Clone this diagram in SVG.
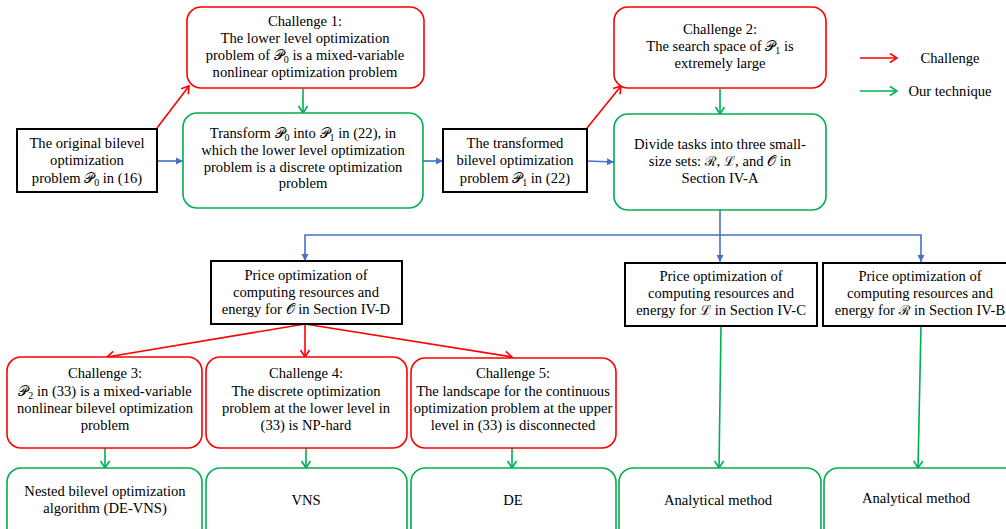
<svg xmlns="http://www.w3.org/2000/svg" width="1006" height="529" viewBox="0 0 1006 529">
<defs>
<style>
text{font-family:"Liberation Serif","DejaVu Serif",serif;font-size:14.6px;fill:#000;text-anchor:middle}
.blk{fill:#fff;stroke:#000;stroke-width:2}
.red{fill:#fff;stroke:#FF0000;stroke-width:1.6}
.grn{fill:#fff;stroke:#00B050;stroke-width:1.6}
.lr{stroke:#FF0000;stroke-width:1.6;fill:none;marker-end:url(#mr)}
.lg{stroke:#00B050;stroke-width:1.6;fill:none;marker-end:url(#mg)}
.lb{stroke:#4472C4;stroke-width:1.6;fill:none}
.lba{stroke:#4472C4;stroke-width:1.6;fill:none;marker-end:url(#mb)}
.sub{font-size:10px}
.m{font-family:"DejaVu Serif","Noto Sans",serif;font-size:13.5px}
</style>
<marker id="mr" markerUnits="userSpaceOnUse" markerWidth="10" markerHeight="10" refX="7" refY="4.5" orient="auto" overflow="visible"><path d="M0,0 L7,4.5 L0,9" fill="none" stroke="#FF0000" stroke-width="1.6"/></marker>
<marker id="mg" markerUnits="userSpaceOnUse" markerWidth="10" markerHeight="10" refX="7" refY="4.5" orient="auto" overflow="visible"><path d="M0,0 L7,4.5 L0,9" fill="none" stroke="#00B050" stroke-width="1.6"/></marker>
<marker id="mb" markerUnits="userSpaceOnUse" markerWidth="8" markerHeight="8" refX="7" refY="3.5" orient="auto" overflow="visible"><path d="M0,0 L7,3.5 L0,7 z" fill="#4472C4"/></marker>
</defs>
<rect width="1006" height="529" fill="#fff"/>

<g id="connectors">
<line class="lr" x1="157" y1="128" x2="189" y2="86"/>
<line class="lba" x1="157" y1="161" x2="183" y2="161"/>
<line class="lg" x1="303" y1="89" x2="303" y2="113"/>
<line class="lba" x1="423" y1="161" x2="443" y2="161"/>
<line class="lba" x1="587" y1="161" x2="614" y2="162"/>
<line class="lr" x1="587" y1="128" x2="621" y2="86"/>
<line class="lg" x1="720" y1="89" x2="720" y2="114"/>
<polyline class="lb" points="720,210 720,235"/>
<polyline class="lba" points="720,235 305,235 305,261"/>
<polyline class="lba" points="720,235 921,235 921,262"/>
<line class="lba" x1="720" y1="235" x2="720" y2="262"/>
<line class="lr" x1="305" y1="324" x2="107" y2="357"/>
<line class="lr" x1="305" y1="324" x2="305" y2="357"/>
<line class="lr" x1="305" y1="324" x2="512" y2="357"/>
<line class="lg" x1="105" y1="448" x2="105" y2="468"/>
<line class="lg" x1="306" y1="448" x2="306" y2="468"/>
<line class="lg" x1="512" y1="448" x2="512" y2="468"/>
<line class="lg" x1="721" y1="326" x2="719" y2="468"/>
<line class="lg" x1="921" y1="326" x2="918" y2="468"/>
</g>

<g id="legend">
<line class="lr" x1="860" y1="58" x2="897" y2="58"/>
<text x="950" y="63">Challenge</text>
<line class="lg" x1="860" y1="91" x2="897" y2="91"/>
<text x="950" y="96">Our technique</text>
</g>

<g id="n-original">
<rect class="blk" x="17" y="129" width="140" height="63"/>
<text x="87" y="148">The original bilevel</text>
<text x="87" y="165">optimization</text>
<text x="87" y="183">problem <tspan class="m">𝒫</tspan><tspan class="sub" dy="3">0</tspan><tspan dy="-3"> in (16)</tspan></text>
</g>

<g id="n-ch1">
<rect class="red" x="187" y="7" width="237" height="81" rx="14"/>
<text x="305" y="26">Challenge 1:</text>
<text x="305" y="43">The lower level optimization</text>
<text x="305" y="60">problem of <tspan class="m">𝒫</tspan><tspan class="sub" dy="3">0</tspan><tspan dy="-3"> is a mixed-variable</tspan></text>
<text x="305" y="77">nonlinear optimization problem</text>
</g>

<g id="n-transform">
<rect class="grn" x="183" y="113" width="240" height="95" rx="14"/>
<text x="303" y="138">Transform <tspan class="m">𝒫</tspan><tspan class="sub" dy="3">0</tspan><tspan dy="-3"> into </tspan><tspan class="m">𝒫</tspan><tspan class="sub" dy="3">1</tspan><tspan dy="-3"> in (22), in</tspan></text>
<text x="303" y="155">which the lower level optimization</text>
<text x="303" y="172">problem is a discrete optimization</text>
<text x="303" y="188">problem</text>
</g>

<g id="n-transformed">
<rect class="blk" x="443" y="129" width="144" height="63"/>
<text x="515" y="148">The transformed</text>
<text x="515" y="165">bilevel optimization</text>
<text x="515" y="183">problem <tspan class="m">𝒫</tspan><tspan class="sub" dy="3">1</tspan><tspan dy="-3"> in (22)</tspan></text>
</g>

<g id="n-ch2">
<rect class="red" x="614" y="7" width="212" height="81" rx="14"/>
<text x="720" y="34">Challenge 2:</text>
<text x="720" y="51">The search space of <tspan class="m">𝒫</tspan><tspan class="sub" dy="3">1</tspan><tspan dy="-3"> is</tspan></text>
<text x="720" y="68">extremely large</text>
</g>

<g id="n-divide">
<rect class="grn" x="614" y="114" width="212" height="96" rx="14"/>
<text x="720" y="149">Divide tasks into three small-</text>
<text x="720" y="166">size sets: <tspan class="m">ℛ</tspan>, <tspan class="m">ℒ</tspan>, and <tspan class="m">𝒪</tspan> in</text>
<text x="720" y="183">Section IV-A</text>
</g>

<g id="n-priceO">
<rect class="blk" x="211" y="261" width="191" height="63"/>
<text x="306" y="280">Price optimization of</text>
<text x="306" y="297">computing resources and</text>
<text x="306" y="314">energy for <tspan class="m">𝒪</tspan> in Section IV-D</text>
</g>

<g id="n-priceL">
<rect class="blk" x="625" y="263" width="192" height="63"/>
<text x="721" y="281">Price optimization of</text>
<text x="721" y="298">computing resources and</text>
<text x="721" y="315">energy for <tspan class="m">ℒ</tspan> in Section IV-C</text>
</g>

<g id="n-priceR">
<rect class="blk" x="823" y="263" width="194" height="63"/>
<text x="920" y="281">Price optimization of</text>
<text x="920" y="298">computing resources and</text>
<text x="920" y="315">energy for <tspan class="m">ℛ</tspan> in Section IV-B</text>
</g>

<g id="n-ch3">
<rect class="red" x="7" y="357" width="195" height="91" rx="14"/>
<text x="105" y="378">Challenge 3:</text>
<text x="105" y="396"><tspan class="m">𝒫</tspan><tspan class="sub" dy="3">2</tspan><tspan dy="-3"> in (33) is a mixed-variable</tspan></text>
<text x="105" y="413">nonlinear bilevel optimization</text>
<text x="105" y="430">problem</text>
</g>

<g id="n-ch4">
<rect class="red" x="206" y="357" width="201" height="91" rx="14"/>
<text x="306" y="378">Challenge 4:</text>
<text x="306" y="396">The discrete optimization</text>
<text x="306" y="413">problem at the lower level in</text>
<text x="306" y="430">(33) is NP-hard</text>
</g>

<g id="n-ch5">
<rect class="red" x="411" y="358" width="205" height="90" rx="14"/>
<text x="513" y="378">Challenge 5:</text>
<text x="513" y="396">The landscape for the continuous</text>
<text x="513" y="413">optimization problem at the upper</text>
<text x="513" y="430">level in (33) is disconnected</text>
</g>

<g id="n-nested">
<rect class="grn" x="7" y="468" width="195" height="80" rx="14"/>
<text x="105" y="496">Nested bilevel optimization</text>
<text x="105" y="513">algorithm (DE-VNS)</text>
</g>

<g id="n-vns">
<rect class="grn" x="206" y="468" width="201" height="80" rx="14"/>
<text x="306" y="505">VNS</text>
</g>

<g id="n-de">
<rect class="grn" x="411" y="468" width="205" height="80" rx="14"/>
<text x="513" y="505">DE</text>
</g>

<g id="n-analytical1">
<rect class="grn" x="619" y="468" width="202" height="80" rx="14"/>
<text x="718" y="505">Analytical method</text>
</g>

<g id="n-analytical2">
<rect class="grn" x="824" y="468" width="200" height="80" rx="14"/>
<text x="916" y="503">Analytical method</text>
</g>
</svg>
